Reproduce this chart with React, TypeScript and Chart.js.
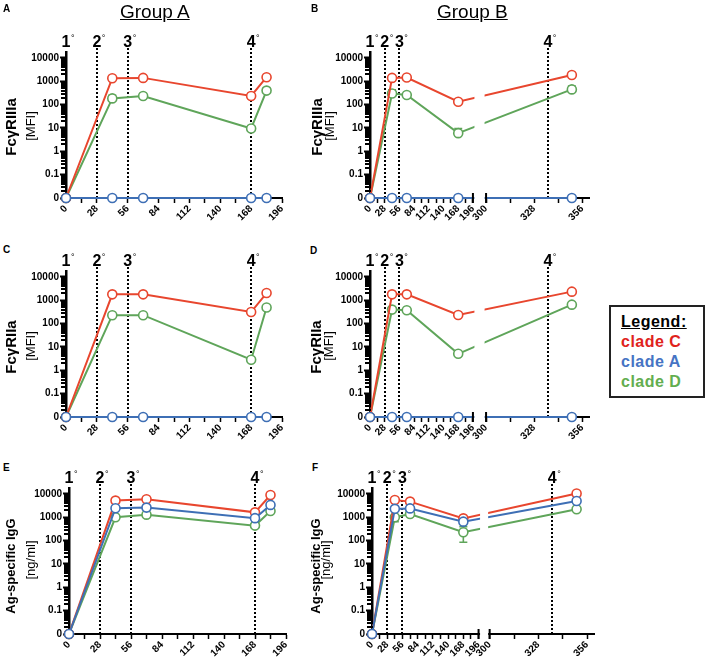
import React, { useEffect, useRef } from 'react';
import { Chart, registerables, LinearScale } from 'chart.js';

Chart.register(...registerables);

const FONT = "'Liberation Sans', Arial, Helvetica, sans-serif";
Chart.defaults.font.family = FONT;
Chart.defaults.color = '#000';

// ---------------- data ----------------
const CLADES = ['clade C', 'clade A', 'clade D'];
const LINE_COLORS = ['#e8462e', '#3e6fb5', '#5fa55a'];
const LEGEND_COLORS = ['#e0231c', '#4674c4', '#63ae4f'];
const DRAW_ORDER = [1, 0, 2];

const DAYS_GROUP_A = [0, 42, 70, 168, 182];
const DAYS_GROUP_B = [0, 42, 70, 168, 350];

const VACC_DAYS_GROUP_A = [0, 28, 56, 168];
const VACC_DAYS_GROUP_B = [0, 28, 56, 336];
const VACC_LABELS = ['1', '2', '3', '4'];

const Y_DECADES = [0.01, 0.1, 1, 10, 100, 1000, 10000];
const Y_MINOR_STEPS = [2, 3, 4, 5, 6, 7, 8, 9];
const Y_ZERO = 0.01;
const Y_MAX = 18000;

const X_TICKS_A = [0, 14, 28, 42, 56, 70, 84, 98, 112, 126, 140, 154, 168, 182, 196];
const X_LABELS_A = [0, 28, 56, 84, 112, 140, 168, 196];
const X_TICKS_B = [0, 14, 28, 42, 56, 70, 84, 98, 112, 126, 140, 154, 168, 182, 196, 300, 314, 328, 342, 356];
const X_LABELS_B = [0, 28, 56, 84, 112, 140, 168, 196, 300, 328, 356];
const X_BREAK = [196, 300];

// FcγRIIIa
const R3A_GA_C = [0, 1350, 1400, 235, 1500];
const R3A_GA_A = [0, 0, 0, 0, 0];
const R3A_GA_D = [0, 185, 235, 9.5, 400];
const R3A_GA_D_HI = [null, 250, null, 12, 520];

const R3A_GB_C = [0, 1400, 1450, 133, 1850];
const R3A_GB_A = [0, 0, 0, 0, 0];
const R3A_GB_D = [0, 300, 260, 6, 450];
const R3A_GB_D_HI = [null, 430, null, 9.5, 620];

// FcγRIIa
const R2A_GA_C = [0, 1800, 1800, 315, 2050];
const R2A_GA_A = [0, 0, 0, 0, 0];
const R2A_GA_D = [0, 230, 230, 2.85, 490];

const R2A_GB_C = [0, 1800, 1800, 235, 2350];
const R2A_GB_A = [0, 0, 0, 0, 0];
const R2A_GB_D = [0, 400, 375, 5.1, 650];

// Ag-specific IgG
const IGG_GA_C = [0, 5200, 5900, 1630, 9000];
const IGG_GA_A = [0, 2450, 2600, 920, 3400];
const IGG_GA_D = [0, 1000, 1300, 440, 1860];

const IGG_GB_C = [0, 5500, 4700, 900, 10500];
const IGG_GB_A = [0, 2300, 2400, 650, 5000];
const IGG_GB_D = [0, 1000, 1380, 230, 2200];
const IGG_GB_D_HI = [null, null, null, 400, null];
const IGG_GB_D_LO = [null, 650, null, 85, null];

// ---------------- custom broken x scale ----------------
class BrokenLinearScale extends LinearScale {
  static id = 'brokenLinear';
  static defaults = {};
  getPixelForValue(value: any) {
    if (value === null || value === undefined || isNaN(value)) return NaN;
    const b = (this.options as any).breaks || [196, 300];
    const f = (this.options as any).breakFrac || [0.47, 0.53];
    const lo = (this as any).min, hi = (this as any).max;
    let dec;
    if (value <= b[0]) dec = ((value - lo) / (b[0] - lo)) * f[0];
    else if (value >= b[1]) dec = f[1] + ((value - b[1]) / (hi - b[1])) * (1 - f[1]);
    else dec = f[0] + ((value - b[0]) / (b[1] - b[0])) * (f[1] - f[0]);
    return this.getPixelForDecimal(dec);
  }
  getValueForPixel(pixel: number) {
    const b = (this.options as any).breaks || [196, 300];
    const f = (this.options as any).breakFrac || [0.47, 0.53];
    const lo = (this as any).min, hi = (this as any).max;
    const dec = this.getDecimalForPixel(pixel);
    if (dec <= f[0]) return lo + (dec / f[0]) * (b[0] - lo);
    if (dec >= f[1]) return b[1] + ((dec - f[1]) / (1 - f[1])) * (hi - b[1]);
    return b[0] + ((dec - f[0]) / (f[1] - f[0])) * (b[1] - b[0]);
  }
}
Chart.register(BrokenLinearScale as any);

// ---------------- decorations plugin ----------------
const decoPlugin = {
  id: 'deco',
  beforeDatasetsDraw(chart: any, _a: any, opts: any) {
    const { ctx, chartArea, scales } = chart;
    const xs = scales.x;
    const ys = scales.y;
    ctx.save();
    // vaccination lines
    ctx.strokeStyle = '#000';
    ctx.lineWidth = 2;
    ctx.setLineDash([2, 2]);
    (opts.days || []).forEach((d: number) => {
      if (d === 0) return;
      const x = Math.round(xs.getPixelForValue(d));
      ctx.beginPath();
      ctx.moveTo(x, chartArea.top - 4);
      ctx.lineTo(x, chartArea.bottom);
      ctx.stroke();
    });
    ctx.setLineDash([]);
    // error bars
    chart.data.datasets.forEach((ds: any, i: number) => {
      const meta = chart.getDatasetMeta(i);
      ['errHi', 'errLo'].forEach((k) => {
        const arr = ds[k];
        if (!arr) return;
        arr.forEach((v: any, j: number) => {
          if (v === null || v === undefined) return;
          const pt = meta.data[j];
          if (!pt) return;
          const yv = ys.getPixelForValue(v);
          ctx.strokeStyle = ds.borderColor;
          ctx.lineWidth = 1.6;
          ctx.beginPath();
          ctx.moveTo(pt.x, pt.y);
          ctx.lineTo(pt.x, yv);
          ctx.moveTo(pt.x - 4, yv);
          ctx.lineTo(pt.x + 4, yv);
          ctx.stroke();
        });
      });
    });
    ctx.restore();
  },
  afterDatasetsDraw(chart: any, _a: any, opts: any) {
    const { ctx, chartArea, scales } = chart;
    const xs = scales.x;
    const ys = scales.y;
    ctx.save();
    // axis break
    if (opts.gap) {
      const x1 = xs.getPixelForValue(opts.gap[0]);
      const x2 = xs.getPixelForValue(opts.gap[1]);
      ctx.fillStyle = '#fff';
      ctx.fillRect(x1 + 1.5, chartArea.top, x2 - x1 - 3, chartArea.bottom - chartArea.top + 2);
      ctx.strokeStyle = '#000';
      ctx.lineWidth = 2;
      ctx.beginPath();
      ctx.moveTo(x1, chartArea.bottom - 5);
      ctx.lineTo(x1, chartArea.bottom + 5);
      ctx.moveTo(x2, chartArea.bottom - 5);
      ctx.lineTo(x2, chartArea.bottom + 5);
      ctx.stroke();
    }
    // minor log ticks
    ctx.fillStyle = '#000';
    const x0 = Math.round(chartArea.left) - 5;
    for (let di = 0; di < Y_DECADES.length - 1; di++) {
      for (let mi = 0; mi < Y_MINOR_STEPS.length; mi++) {
        const y = Math.round(ys.getPixelForValue(Y_DECADES[di] * Y_MINOR_STEPS[mi]));
        ctx.fillRect(x0, y - 1, 6, 2);
      }
    }
    // vaccination labels
    (opts.days || []).forEach((d: number, i: number) => {
      const x = xs.getPixelForValue(d);
      const yb = chartArea.top - 5;
      const t = opts.labels[i];
      ctx.font = `bold 16px ${FONT}`;
      ctx.textAlign = 'center';
      ctx.textBaseline = 'alphabetic';
      ctx.fillText(t, x, yb);
      const w = ctx.measureText(t).width;
      ctx.font = `9px ${FONT}`;
      ctx.textAlign = 'left';
      ctx.fillText('°', x + w / 2 + 0.5, yb - 6);
    });
    ctx.restore();
  },
};

// ---------------- layout constants ----------------
const YW = 52;
const XH = 34;
const PT = 34;
const PR = 10;

type PanelDef = {
  x: number; y: number; w: number; h: number;
  days: number[];
  series: number[][];
  errHi?: any[];
  errLo?: any[];
  vacc: number[];
  broken: boolean;
  frac?: number[];
};

const PANELS: PanelDef[] = [
  { x: 66, y: 52, w: 216, h: 146, days: DAYS_GROUP_A, series: [R3A_GA_C, R3A_GA_A, R3A_GA_D],
    errHi: [null, null, R3A_GA_D_HI], vacc: VACC_DAYS_GROUP_A, broken: false },
  { x: 370, y: 52, w: 219, h: 146, days: DAYS_GROUP_B, series: [R3A_GB_C, R3A_GB_A, R3A_GB_D],
    errHi: [null, null, R3A_GB_D_HI], vacc: VACC_DAYS_GROUP_B, broken: true, frac: [0.47, 0.53] },
  { x: 66, y: 271, w: 216, h: 146, days: DAYS_GROUP_A, series: [R2A_GA_C, R2A_GA_A, R2A_GA_D],
    vacc: VACC_DAYS_GROUP_A, broken: false },
  { x: 370, y: 271, w: 219, h: 146, days: DAYS_GROUP_B, series: [R2A_GB_C, R2A_GB_A, R2A_GB_D],
    vacc: VACC_DAYS_GROUP_B, broken: true, frac: [0.47, 0.53] },
  { x: 69, y: 488, w: 217, h: 146, days: DAYS_GROUP_A, series: [IGG_GA_C, IGG_GA_A, IGG_GA_D],
    vacc: VACC_DAYS_GROUP_A, broken: false },
  { x: 372, y: 488, w: 222, h: 146, days: DAYS_GROUP_B, series: [IGG_GB_C, IGG_GB_A, IGG_GB_D],
    errHi: [null, null, IGG_GB_D_HI], errLo: [null, null, IGG_GB_D_LO],
    vacc: VACC_DAYS_GROUP_B, broken: true, frac: [0.48, 0.53] },
];

function zeroPad(s: any) {
  s.paddingLeft = 0; s.paddingRight = 0; s.paddingTop = 0; s.paddingBottom = 0;
}

function Panel({ p }: { p: PanelDef }) {
  const ref = useRef<HTMLCanvasElement | null>(null);
  useEffect(() => {
    const xTicks = p.broken ? X_TICKS_B : X_TICKS_A;
    const xLabels = p.broken ? X_LABELS_B : X_LABELS_A;
    const datasets = p.series.map((s, i) => ({
      label: CLADES[i],
      order: DRAW_ORDER[i],
      data: p.days.map((d, j) => ({ x: d, y: s[j] === 0 ? Y_ZERO : s[j] })),
      borderColor: LINE_COLORS[i],
      backgroundColor: '#fff',
      pointBackgroundColor: '#fff',
      pointBorderColor: LINE_COLORS[i],
      pointRadius: 4.5,
      pointBorderWidth: 1.6,
      borderWidth: 2,
      tension: 0,
      clip: false,
      errHi: p.errHi ? p.errHi[i] : null,
      errLo: p.errLo ? p.errLo[i] : null,
    }));
    const xScale: any = {
      type: p.broken ? 'brokenLinear' : 'linear',
      min: 0,
      max: p.broken ? 360 : 196,
      breaks: X_BREAK,
      breakFrac: p.frac || [0.47, 0.53],
      afterBuildTicks: (s: any) => { s.ticks = xTicks.map((v) => ({ value: v })); },
      afterFit: (s: any) => { s.height = XH; zeroPad(s); },
      ticks: {
        autoSkip: false,
        minRotation: 45,
        maxRotation: 45,
        padding: 0,
        font: { size: 10, weight: 'bold' },
        color: '#000',
        callback: (v: any) => (xLabels.includes(v) ? String(v) : ''),
      },
      grid: { drawOnChartArea: false, drawTicks: true, tickLength: 5, tickWidth: 1.5, tickColor: '#000' },
      border: { display: true, color: '#000', width: 2 },
    };
    const chart = new Chart(ref.current as HTMLCanvasElement, {
      type: 'line',
      data: { datasets } as any,
      options: {
        animation: false,
        responsive: false,
        events: [],
        layout: { padding: { left: 0, top: PT, right: PR, bottom: 0 } },
        plugins: {
          legend: { display: false },
          tooltip: { enabled: false },
          deco: { days: p.vacc, labels: VACC_LABELS, gap: p.broken ? X_BREAK : null },
        } as any,
        scales: {
          x: xScale,
          y: {
            type: 'logarithmic',
            min: Y_ZERO,
            max: Y_MAX,
            afterBuildTicks: (s: any) => { s.ticks = Y_DECADES.map((v) => ({ value: v })); },
            afterFit: (s: any) => { s.width = YW; zeroPad(s); },
            ticks: {
              autoSkip: false,
              padding: 1,
              font: { size: 10, weight: 'bold' },
              color: '#000',
              callback: (v: any) => (v === Y_ZERO ? '0' : String(v)),
            },
            grid: { drawOnChartArea: false, drawTicks: true, tickLength: 6, tickColor: '#000', tickWidth: 2 },
            border: { display: true, color: '#000', width: 2.5 },
          } as any,
        },
      },
      plugins: [decoPlugin] as any,
    });
    return () => chart.destroy();
  }, []);
  const W = YW + p.w + PR;
  const H = PT + p.h + XH;
  return (
    <canvas ref={ref} width={W} height={H}
      style={{ position: 'absolute', left: p.x - YW, top: p.y - PT, width: W, height: H }} />
  );
}

function VText({ x, y, text, size, bold }: { x: number; y: number; text: string; size: number; bold?: boolean }) {
  return (
    <div style={{
      position: 'absolute', left: x, top: y, transform: 'translate(-50%, -50%) rotate(-90deg)',
      whiteSpace: 'nowrap', fontFamily: FONT, fontSize: size, fontWeight: bold ? 'bold' : 'normal', lineHeight: 1, color: '#000',
    }}>{text}</div>
  );
}

function Txt({ x, y, text, size, bold, style }: any) {
  return (
    <div style={{ position: 'absolute', left: x, top: y, fontFamily: FONT, fontSize: size, fontWeight: bold ? 'bold' : 'normal', lineHeight: 1, color: '#000', whiteSpace: 'nowrap', ...style }}>{text}</div>
  );
}

export default function App() {
  return (
    <div style={{ position: 'absolute', left: 0, top: 0, width: 708, height: 662, background: '#fff', overflow: 'hidden' }}>
      {PANELS.map((p, i) => <Panel key={i} p={p} />)}
      <Txt x={120} y={2} text="Group A" size={19} style={{ textDecoration: 'underline' }} />
      <Txt x={437} y={2} text="Group B" size={19} style={{ textDecoration: 'underline' }} />
      <Txt x={3} y={4} text="A" size={10} bold />
      <Txt x={311} y={4} text="B" size={10} bold />
      <Txt x={3} y={245} text="C" size={10} bold />
      <Txt x={310} y={246} text="D" size={10} bold />
      <Txt x={3} y={463} text="E" size={10} bold />
      <Txt x={312} y={463} text="F" size={10} bold />

      <VText x={10} y={127} text="FcγRIIIa" size={15} bold />
      <VText x={30} y={126} text="[MFI]" size={13} />
      <VText x={316} y={127} text="FcγRIIIa" size={15} bold />
      <VText x={329} y={126} text="[MFI]" size={13} />
      <VText x={10} y={347} text="FcγRIIa" size={15} bold />
      <VText x={30} y={346} text="[MFI]" size={13} />
      <VText x={315} y={347} text="FcγRIIa" size={15} bold />
      <VText x={328} y={346} text="[MFI]" size={13} />
      <VText x={10} y={566} text="Ag-specific IgG" size={13} bold />
      <VText x={30} y={560} text="[ng/ml]" size={13} />
      <VText x={315} y={566} text="Ag-specific IgG" size={13} bold />
      <VText x={325} y={560} text="[ng/ml]" size={13} />

      <div style={{ position: 'absolute', left: 609, top: 305, width: 92, height: 89, border: '2px solid #222', background: '#fff' }} />
      <Txt x={621} y={314} text="Legend:" size={16} bold style={{ textDecoration: 'underline', letterSpacing: 0.5 }} />
      {CLADES.map((c, i) => (
        <Txt key={c} x={621} y={334 + i * 20} text={c} size={16} bold style={{ color: LEGEND_COLORS[i], letterSpacing: 0.5 }} />
      ))}
    </div>
  );
}
